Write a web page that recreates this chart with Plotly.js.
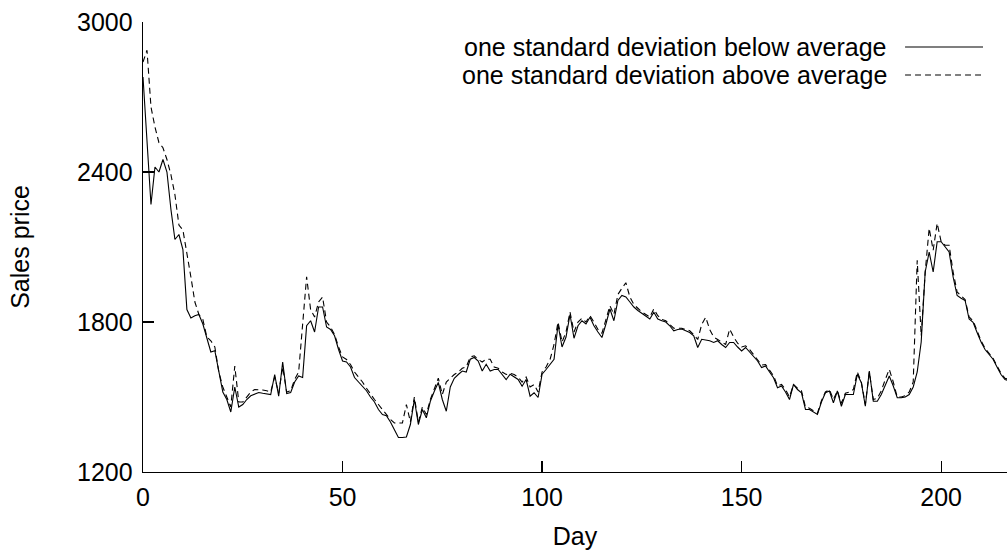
<!DOCTYPE html>
<html>
<head>
<meta charset="utf-8">
<script src="https://cdn.plot.ly/plotly-3.0.1.min.js"></script>
<style>html,body{margin:0;padding:0;background:#fff;}#chart{width:1007px;height:550px;}</style>
</head>
<body>
<div id="chart"></div>
<script>
// Day index 0..217
const days = Array.from({length: 218}, (_, i) => i);

const belowAvg = [
2780,2530,2270,2420,2400,2450,2400,2250,2130,2150,
2090,1850,1816,1825,1830,1792,1735,1680,1685,1600,
1520,1490,1440,1540,1460,1470,1490,1505,1510,1518,
1515,1512,1510,1590,1503,1640,1514,1518,1560,1584,
1578,1785,1805,1760,1860,1860,1780,1770,1745,1690,
1644,1640,1620,1578,1560,1543,1525,1500,1480,1450,
1430,1425,1400,1369,1338,1338,1340,1390,1490,1390,
1450,1417,1483,1523,1558,1490,1443,1540,1575,1590,
1604,1600,1651,1658,1644,1604,1631,1604,1610,1610,
1591,1570,1591,1582,1570,1543,1570,1503,1517,1498,
1591,1610,1631,1651,1790,1700,1740,1830,1735,1785,
1805,1792,1819,1785,1760,1738,1792,1852,1805,1886,
1906,1900,1880,1860,1846,1835,1825,1812,1839,1812,
1805,1800,1785,1765,1770,1772,1765,1758,1745,1698,
1731,1728,1725,1718,1725,1710,1698,1718,1718,1700,
1684,1698,1680,1664,1644,1618,1624,1600,1577,1537,
1544,1520,1490,1550,1530,1517,1450,1450,1440,1430,
1480,1517,1524,1477,1524,1463,1510,1510,1510,1591,
1557,1463,1604,1483,1483,1510,1550,1584,1544,1497,
1497,1500,1510,1540,1600,1720,2000,2080,2000,2121,
2121,2100,2080,1980,1906,1895,1886,1812,1799,1758,
1720,1690,1671,1651,1620,1590,1570,1565
];

const aboveAvg = [
2840,2887,2660,2580,2517,2497,2450,2389,2309,2188,
2168,2080,1980,1880,1830,1810,1740,1725,1700,1600,
1540,1500,1460,1624,1480,1480,1500,1520,1530,1530,
1528,1525,1520,1580,1515,1620,1520,1525,1570,1600,
1800,1981,1850,1820,1880,1900,1800,1780,1750,1700,
1660,1650,1630,1600,1580,1560,1535,1510,1490,1470,
1450,1430,1410,1396,1396,1396,1470,1400,1500,1400,
1460,1430,1490,1530,1575,1510,1560,1575,1590,1600,
1615,1620,1660,1665,1650,1640,1651,1651,1620,1615,
1600,1590,1595,1590,1580,1560,1580,1540,1550,1520,
1600,1620,1650,1710,1800,1720,1760,1840,1760,1800,
1815,1800,1825,1800,1770,1755,1810,1865,1830,1910,
1935,1957,1900,1870,1855,1840,1830,1820,1852,1825,
1810,1805,1790,1775,1775,1775,1770,1765,1750,1730,
1790,1819,1770,1740,1730,1720,1710,1772,1740,1715,
1700,1705,1690,1670,1650,1628,1630,1605,1585,1545,
1550,1530,1500,1550,1535,1525,1460,1455,1445,1435,
1485,1520,1530,1490,1525,1475,1515,1520,1530,1600,
1560,1470,1600,1490,1495,1525,1570,1611,1560,1500,
1500,1505,1520,1560,2047,1745,2000,2175,2087,2195,
2121,2107,2107,2000,1920,1906,1890,1820,1805,1765,
1725,1695,1675,1655,1625,1595,1575,1570
];

const xTicks = [0, 50, 100, 150, 200];
const yTicks = [1200, 1800, 2400, 3000];
const legendLabels = ['one standard deviation below average', 'one standard deviation above average'];

const FONT = 'Liberation Sans, Arial, Helvetica, sans-serif';
const FS = 25;

const traces = [
  {x: days, y: belowAvg, type: 'scatter', mode: 'lines', name: legendLabels[0],
   line: {color: '#000', width: 1.1}, showlegend: false},
  {x: days, y: aboveAvg, type: 'scatter', mode: 'lines', name: legendLabels[1],
   line: {color: '#000', width: 1.1, dash: '6px,4px'}, showlegend: false}
];

const L = 142.5, R = 0, T = 22, B = 78, W = 1007, H = 550;
const pw = W - L - R, ph = H - T - B;
const px = p => (p - L) / pw;
const py = p => (H - B - p) / ph;

const layout = {
  width: W, height: H,
  margin: {l: L, r: R, t: T, b: B, pad: 0},
  paper_bgcolor: '#fff', plot_bgcolor: '#fff',
  font: {family: FONT, size: FS, color: '#000'},
  showlegend: false,
  xaxis: {
    range: [0, 216.5], tickvals: xTicks, ticktext: xTicks.map(String),
    ticks: 'inside', ticklen: 11, tickwidth: 1.3, tickcolor: '#000',
    showline: true, linecolor: '#000', linewidth: 1.3, mirror: false,
    showgrid: false, zeroline: false, ticklabelstandoff: 3,
    tickfont: {family: FONT, size: FS, color: '#000'},
    title: {text: 'Day', font: {family: FONT, size: FS, color: '#000'}, standoff: 20},
    automargin: false
  },
  yaxis: {
    range: [1200, 3000], tickvals: yTicks, ticktext: yTicks.map(String),
    ticks: 'inside', ticklen: 11, tickwidth: 1.3, tickcolor: '#000',
    showline: true, linecolor: '#000', linewidth: 1.3, mirror: false,
    showgrid: false, zeroline: false, ticklabelstandoff: 4,
    tickfont: {family: FONT, size: FS, color: '#000'},
    title: {text: 'Sales price', font: {family: FONT, size: FS, color: '#000'}, standoff: 40},
    automargin: false
  },
  annotations: [
    {xref: 'paper', yref: 'paper', x: px(889), y: py(47), xanchor: 'right', yanchor: 'middle',
     text: legendLabels[0], showarrow: false, font: {family: FONT, size: FS, color: '#000'}},
    {xref: 'paper', yref: 'paper', x: px(889), y: py(75), xanchor: 'right', yanchor: 'middle',
     text: legendLabels[1], showarrow: false, font: {family: FONT, size: FS, color: '#000'}}
  ],
  shapes: [
    {type: 'line', xref: 'paper', yref: 'paper', x0: px(905), x1: px(983), y0: py(47), y1: py(47),
     line: {color: '#000', width: 1.1}},
    {type: 'line', xref: 'paper', yref: 'paper', x0: px(905), x1: px(983), y0: py(75), y1: py(75),
     line: {color: '#000', width: 1.1, dash: '6px,4px'}}
  ]
};

Plotly.newPlot('chart', traces, layout, {staticPlot: true, displayModeBar: false});
</script>
</body>
</html>
